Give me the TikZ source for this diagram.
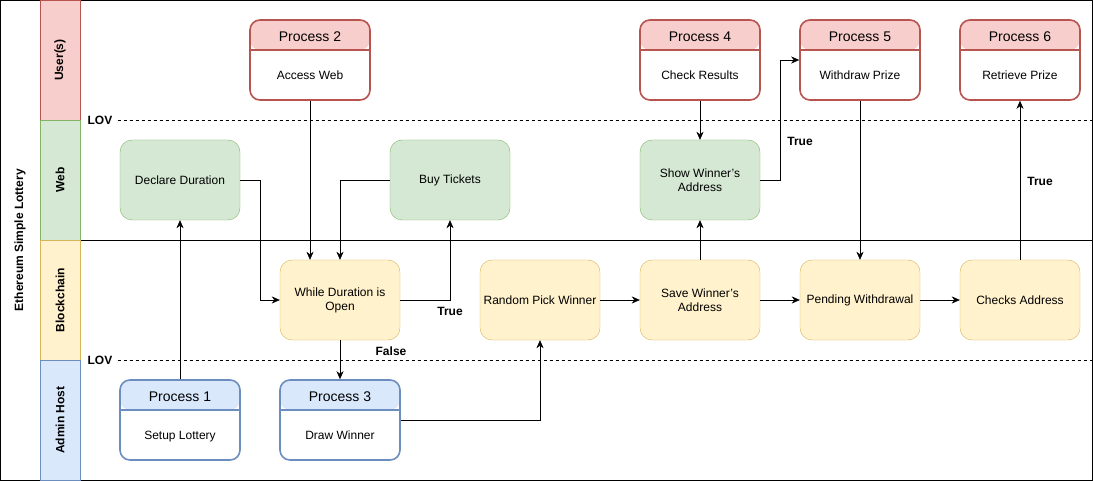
\documentclass[tikz,border=0pt]{standalone}
\usepackage{fontspec}
\setmainfont{Liberation Sans}
\usepackage{xcolor}
\usetikzlibrary{arrows.meta}

\definecolor{usrfill}{HTML}{F8CECC}
\definecolor{usrline}{HTML}{B85450}
\definecolor{webfill}{HTML}{D5E8D4}
\definecolor{webline}{HTML}{82B366}
\definecolor{chnfill}{HTML}{FFF2CC}
\definecolor{chnline}{HTML}{D6B656}
\definecolor{admfill}{HTML}{DAE8FC}
\definecolor{admline}{HTML}{6C8EBF}

\tikzset{
  lanehd/.style={draw=#1line, fill=#1fill, rotate=90, minimum width=120pt, minimum height=40pt,
    font=\bfseries\fontsize{12}{14}\selectfont},
  task/.style={draw=#1line, fill=#1fill, rounded corners=12pt, minimum width=120pt, minimum height=80pt,
    align=center, font=\fontsize{12}{14}\selectfont},
  procbox/.style n args={3}{draw=#1line, fill=white, line width=1.6pt, rounded corners=10pt,
    minimum width=120pt, minimum height=80pt,
    path picture={
      \fill[#1fill] (path picture bounding box.north west) rectangle ([yshift=-30pt]path picture bounding box.north east);
      \draw[#1line, line width=1.6pt] ([yshift=-30pt]path picture bounding box.north west) -- ([yshift=-30pt]path picture bounding box.north east);
    },
    label={[font=\fontsize{14}{16}\selectfont, text height=10pt, text depth=3pt, anchor=center, yshift=-19pt]north:#2},
    label={[font=\fontsize{12}{14}\selectfont, text height=8.6pt, text depth=2.5pt, anchor=center, yshift=24pt]south:#3}},
  arr/.style={-{Stealth[length=8pt,width=7pt,inset=2.5pt]}},
  lbl/.style={font=\bfseries\fontsize{12}{14}\selectfont, inner sep=1pt},
  lovline/.style={dash pattern=on 3pt off 3pt},
}

\begin{document}
\begin{tikzpicture}[x=1pt, y=-1pt]
\useasboundingbox (0,0) rectangle (1093,481);

% pool and lanes
\draw (0.5,0.5) rectangle (1092.5,480.5);
\draw (40,0.5) -- (40,480.5);
\draw (80,240) -- (1092.5,240);
\node[lbl, rotate=90] (pool) at (20,240) {Ethereum Simple Lottery};
\node[lanehd=usr] (husr) at (60,60) {User(s)};
\node[lanehd=web] (hweb) at (60,180) {Web};
\node[lanehd=chn] (hchn) at (60,300) {Blockchain};
\node[lanehd=adm] (hadm) at (60,420) {Admin Host};

% lines of visibility
\node[lbl] (lov1) at (100,120) {LOV};
\node[lbl] (lov2) at (100,360) {LOV};
\draw[lovline] (lov1.east) ++(4,0) -- (1092.5,120);
\draw[lovline] (lov2.east) ++(4,0) -- (1092.5,360);

% users
\node[procbox={usr}{Process 2}{Access Web}] (p2) at (310,60) {};
\node[procbox={usr}{Process 4}{Check Results}] (p4) at (700,60) {};
\node[procbox={usr}{Process 5}{Withdraw Prize}] (p5) at (860,60) {};
\node[procbox={usr}{Process 6}{Retrieve Prize}] (p6) at (1020,60) {};

% web
\node[task=web] (decl) at (180,180) {Declare Duration};
\node[task=web] (buy) at (450,180) {Buy Tickets};
\node[task=web] (show) at (700,180) {Show Winner's\\Address};

% blockchain
\node[task=chn] (wdo) at (340,300) {While Duration is\\Open};
\node[task=chn] (rnd) at (540,300) {Random Pick Winner};
\node[task=chn] (save) at (700,300) {Save Winner's\\Address};
\node[task=chn] (pend) at (860,300) {Pending Withdrawal};
\node[task=chn] (chk) at (1020,300) {Checks Address};

% admin host
\node[procbox={adm}{Process 1}{Setup Lottery}] (p1) at (180,420) {};
\node[procbox={adm}{Process 3}{Draw Winner}] (p3) at (340,420) {};

% connectors
\draw[arr] (p1.north) -- (decl.south);
\draw[arr] (decl.east) -| ([xshift=-20pt]wdo.west) -- (wdo.west);
\draw[arr] (p2.south) -- ([xshift=-30pt]wdo.north);
\draw[arr] (buy.west) -| (wdo.north);
\draw[arr] (wdo.east) -| (buy.south);
\draw[arr] (wdo.south) -- (p3.north);
\draw[arr] (p3.east) -| (rnd.south);
\draw[arr] (rnd.east) -- (save.west);
\draw[arr] (save.north) -- (show.south);
\draw[arr] (p4.south) -- (show.north);
\draw[arr] (show.east) -- ++(20,0) |- (p5.west);
\draw[arr] (p5.south) -- (pend.north);
\draw[arr] (save.east) -- (pend.west);
\draw[arr] (pend.east) -- (chk.west);
\draw[arr] (chk.north) -- (p6.south);

% labels
\node[lbl] (t1) at (450,311) {True};
\node[lbl] (f1) at (391,351) {False};
\node[lbl] (t2) at (800,141) {True};
\node[lbl] (t3) at (1040,181) {True};

\end{tikzpicture}
\end{document}
